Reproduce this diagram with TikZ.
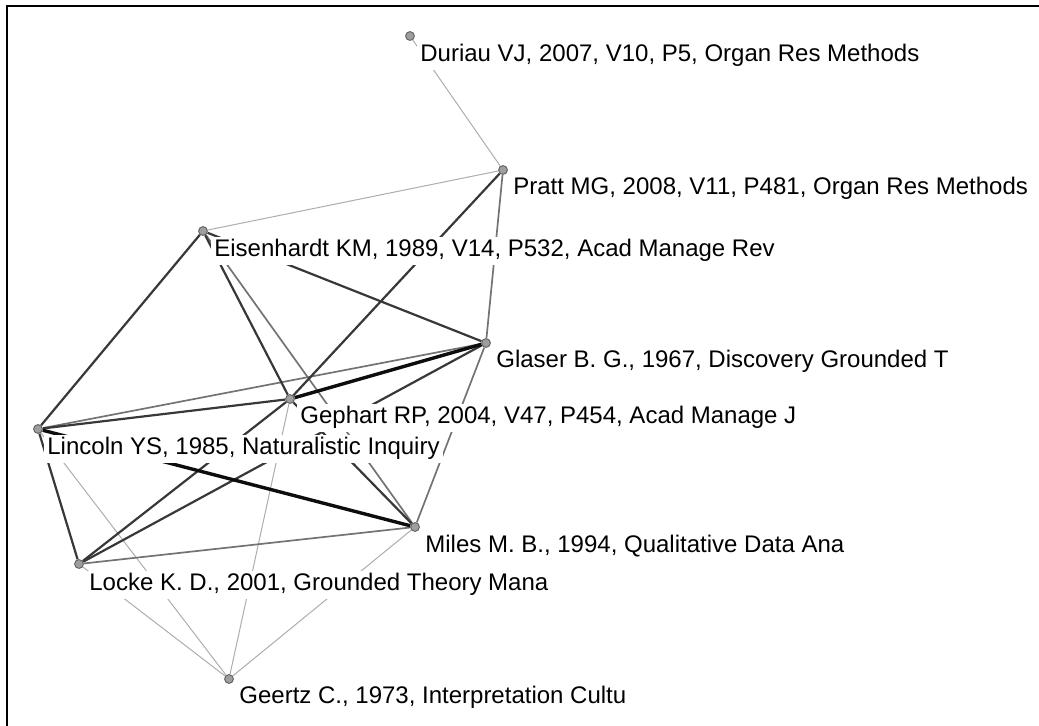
\documentclass[tikz,border=0pt]{standalone}
\usepackage{fontspec}
\setmainfont{Liberation Sans}
\usetikzlibrary{backgrounds}
\tikzset{
  dot/.style={circle,draw=black!60,fill=black!38,line width=0.5pt,inner sep=0pt,minimum size=4.4pt},
  lbl/.style={anchor=base west,fill=white,inner sep=1.5pt,font=\fontsize{12}{14}\selectfont},
  weak/.style={draw=black!32,line width=0.5pt},
  mid/.style={draw=black!55,line width=0.85pt},
  strong/.style={draw=black!78,line width=1.1pt},
  heavy/.style={draw=black!95,line width=1.7pt},
}
\begin{document}
\begin{tikzpicture}[x=0.5pt,y=-0.5pt]
    \useasboundingbox (0,0) rectangle (1039,726);
    \draw[line width=1.4pt] (7,726) -- (7,6) -- (1039,6);
    \node[dot] (Duriau) at (410,36) {};
    \node[dot] (Pratt) at (503,170) {};
    \node[dot] (Eisen) at (203,231) {};
    \node[dot] (Glaser) at (486,343) {};
    \node[dot] (Gephart) at (290,399) {};
    \node[dot] (Lincoln) at (38,429) {};
    \node[dot] (Miles) at (415,527) {};
    \node[dot] (Locke) at (79,564) {};
    \node[dot] (Geertz) at (229,679) {};
    \node[lbl] (Duriau_t) at ([shift={(7,26)}]Duriau.center) {Duriau VJ, 2007, V10, P5, Organ Res Methods};
    \node[lbl] (Pratt_t) at ([shift={(7,25)}]Pratt.center) {Pratt MG, 2008, V11, P481, Organ Res Methods};
    \node[lbl] (Eisen_t) at ([shift={(8,26)}]Eisen.center) {Eisenhardt KM, 1989, V14, P532, Acad Manage Rev};
    \node[lbl] (Glaser_t) at ([shift={(7,25)}]Glaser.center) {Glaser B. G., 1967, Discovery Grounded T};
    \node[lbl] (Gephart_t) at ([shift={(7,25)}]Gephart.center) {Gephart RP, 2004, V47, P454, Acad Manage J};
    \node[lbl] (Lincoln_t) at ([shift={(6,26)}]Lincoln.center) {Lincoln YS, 1985, Naturalistic Inquiry};
    \node[lbl] (Miles_t) at ([shift={(7,26)}]Miles.center) {Miles M. B., 1994, Qualitative Data Ana};
    \node[lbl] (Locke_t) at ([shift={(7,27)}]Locke.center) {Locke K. D., 2001, Grounded Theory Mana};
    \node[lbl] (Geertz_t) at ([shift={(7,25)}]Geertz.center) {Geertz C., 1973, Interpretation Cultu};
    % co-citation ties, weakest first
    \begin{scope}[on background layer]
      \path (Duriau) edge [weak] (Pratt);
      \path (Pratt) edge [weak] (Eisen);
      \path (Lincoln) edge [weak] (Geertz);
      \path (Locke) edge [weak] (Geertz);
      \path (Gephart) edge [weak] (Geertz);
      \path (Miles) edge [weak] (Geertz);
      \path (Pratt) edge [mid] (Glaser);
      \path (Glaser) edge [mid] (Miles);
      \path (Locke) edge [mid] (Miles);
      \path (Lincoln) edge [mid] (Glaser);
      \path (Eisen) edge [mid] (Miles);
      \path (Eisen) edge [strong] (Lincoln);
      \path (Eisen) edge [strong] (Glaser);
      \path (Eisen) edge [strong] (Gephart);
      \path (Lincoln) edge [strong] (Locke);
      \path (Lincoln) edge [strong] (Gephart);
      \path (Locke) edge [strong] (Gephart);
      \path (Locke) edge [strong] (Glaser);
      \path (Gephart) edge [strong] (Pratt);
      \path (Miles) edge [strong] (Gephart);
      \path (Lincoln) edge [heavy] (Miles);
      \path (Gephart) edge [heavy] (Glaser);
    \end{scope}
\end{tikzpicture}
\end{document}
